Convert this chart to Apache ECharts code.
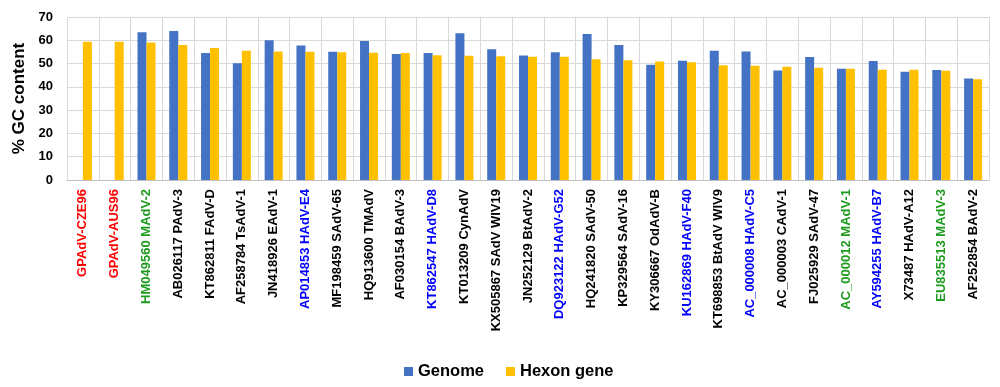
<!DOCTYPE html>
<html><head><meta charset="utf-8">
<script src="https://cdn.jsdelivr.net/npm/echarts@6/dist/echarts.min.js"></script>
<style>html,body{margin:0;padding:0;background:#fff}#c{width:1000px;height:387px}</style>
</head><body><div id="c"></div>
<script>
const categories = ['GPAdV-CZE96','GPAdV-AUS96','HM049560 MAdV-2','AB026117 PAdV-3','KT862811 FAdV-D','AF258784 TsAdV-1','JN418926 EAdV-1','AP014853 HAdV-E4','MF198459 SAdV-65','HQ913600 TMAdV','AF030154 BAdV-3','KT862547 HAdV-D8','KT013209 CynAdV','KX505867 SAdV WIV19','JN252129 BtAdV-2','DQ923122 HAdV-G52','HQ241820 SAdV-50','KP329564 SAdV-16','KY306667 OdAdV-B','KU162869 HAdV-F40','KT698853 BtAdV WIV9','AC_000008 HAdV-C5','AC_000003 CAdV-1','FJ025929 SAdV-47','AC_000012 MAdV-1','AY594255 HAdV-B7','X73487 HAdV-A12','EU835513 MAdV-3','AF252854 BAdV-2'];
const labelGroups = ['r','r','g','k','k','k','k','b','k','k','k','b','k','k','k','b','k','k','k','b','k','b','k','k','g','b','k','g','k'];
const genome = [null,null,63.5,64.0,54.5,50.1,60.0,57.8,55.1,59.7,54.1,54.5,63.0,56.2,53.5,54.9,62.7,58.0,49.5,51.2,55.5,55.2,47.0,52.8,47.8,51.1,46.5,47.2,43.6];
const hexon = [59.4,59.4,59.0,58.0,56.7,55.5,55.2,55.1,54.9,54.7,54.5,53.6,53.4,53.1,52.9,52.9,51.9,51.4,50.9,50.6,49.3,49.1,48.6,48.2,47.8,47.3,47.3,46.9,43.3];
const yTicks = [0,10,20,30,40,50,60,70];

const groupColor = {r:'#FF0000', g:'#1E9B1E', b:'#0000FF', k:'#000000'};
const chart = echarts.init(document.getElementById('c'));
chart.setOption({
  animation:false,
  textStyle:{fontFamily:'Liberation Sans, Arial, sans-serif'},
  grid:{left:67,right:11,top:17,bottom:207},
  legend:{
    left:399, top:358, itemWidth:9, itemHeight:9, itemGap:22,
    icon:'rect',
    textStyle:{fontSize:16.5,fontWeight:'bold',color:'#000',padding:[0,0,0,0]},
    data:['Genome','Hexon gene']
  },
  xAxis:{
    type:'category',
    data: categories.map((c,i)=>({value:c,textStyle:{color:groupColor[labelGroups[i]]}})),
    axisLine:{lineStyle:{color:'#BFBFBF'}},
    axisTick:{show:false},
    splitLine:{show:true,lineStyle:{color:'#D9D9D9'}},
    axisLabel:{rotate:90,interval:0,fontSize:13,fontWeight:'bold',margin:9}
  },
  yAxis:{
    type:'value',min:yTicks[0],max:yTicks[yTicks.length-1],interval:10,
    name:'% GC content',nameLocation:'middle',nameGap:37,
    nameTextStyle:{fontSize:17,fontWeight:'bold',color:'#000'},
    axisLine:{show:false},axisTick:{show:false},
    splitLine:{lineStyle:{color:'#D9D9D9'}},
    axisLabel:{fontSize:13,fontWeight:'bold',color:'#000',margin:14}
  },
  series:[
    {name:'Genome',type:'bar',data:genome,barWidth:9,barGap:'0%',itemStyle:{color:'#4472C4'}},
    {name:'Hexon gene',type:'bar',data:hexon,barWidth:9,itemStyle:{color:'#FFC000'}}
  ]
});
</script></body></html>
